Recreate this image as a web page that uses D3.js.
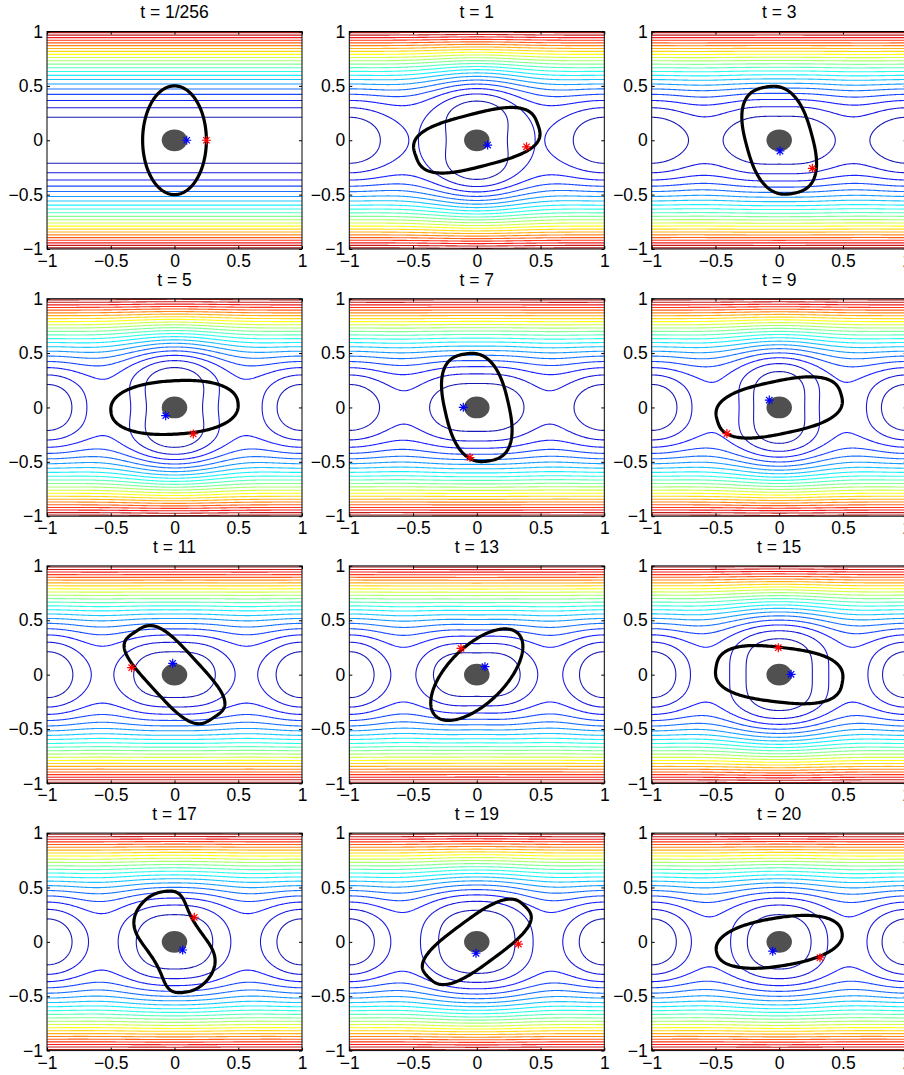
<!DOCTYPE html>
<html>
<head>
<meta charset="utf-8">
<script src="https://cdn.jsdelivr.net/npm/d3@7"></script>
<style>
  body { margin: 0; background: #fff; }
  svg { display: block; }
  text { font-family: "Liberation Sans", Arial, Helvetica, sans-serif; fill: #000; }
</style>
</head>
<body>
<svg id="fig" width="904" height="1075"></svg>
<script>
// ── Data ────────────────────────────────────────────────────────────────────
const titles = ["t = 1/256", "t = 1", "t = 3", "t = 5", "t = 7", "t = 9",
                "t = 11", "t = 13", "t = 15", "t = 17", "t = 19", "t = 20"];

// flow field per panel: height of the saddle between periodic cells (stream
// function units), and half width / half height of the innermost closed orbit
// round the centre (0 = no closed orbit)
const saddleAmp   = [0, 0.075, 0.068, 0.11, 0.087, 0.105, 0.11, 0.12, 0.12, 0.115, 0.115, 0.115];
const innerHalfW  = [0, 0.24, 0.44, 0.22, 0.37, 0.2, 0.32, 0.34, 0.26, 0.3, 0.3, 0.25];
const innerHalfH  = [0, 0.36, 0.22, 0.39, 0.22, 0.33, 0.21, 0.2, 0.33, 0.25, 0.29, 0.25];

// vesicle outline per panel (data units, angle in degrees)
const vesA     = [0.5, 0.5, 0.5, 0.5, 0.5, 0.5, 0.5, 0.5, 0.5, 0.47, 0.5, 0.5];
const vesB     = [0.25, 0.24, 0.26, 0.245, 0.25, 0.24, 0.21, 0.24, 0.25, 0.24, 0.2, 0.22];
const vesAngle = [90, 17, 103, 4, 101, 14, -52, 52, -8, 100, 41, 11];
const vesPower = [2, 3, 2.6, 2.3, 2.6, 2.7, 3.5, 2, 2.7, 2.5, 3, 2.3];
const vesBend  = [0, 0, 0, 0, 0, 0, 0, 0, 0, 0.06, 0, 0];

// tracer points
const blueX = [0.096, 0.085, 0.006, -0.069, -0.106, -0.078, -0.014, 0.064, 0.093, 0.064, -0.006, -0.051];
const blueY = [0, -0.044, -0.099, -0.076, 0.001, 0.068, 0.104, 0.073, 0.003, -0.075, -0.105, -0.086];
const redX  = [0.25, 0.39, 0.26, 0.147, -0.053, -0.41, -0.336, -0.124, -0.007, 0.155, 0.326, 0.32];
const redY  = [0, -0.06, -0.258, -0.244, -0.46, -0.24, 0.064, 0.242, 0.248, 0.226, -0.02, -0.146];

const tickValues = [-1, -0.5, 0, 0.5, 1];
const tickLabels = ["\u22121", "\u22120.5", "0", "0.5", "1"];
const levelCount = 22;
const levelStep  = 0.0445;
const diskRadius = 0.1;

// ── Layout ──────────────────────────────────────────────────────────────────
const COL_X = [47, 349.3, 651.7];
const ROW_Y = [31.5, 298.7, 565.9, 833.1];
const PW = 255, PH = 217.5;
const FONT_SIZE = 17.5;

// ── Field model ─────────────────────────────────────────────────────────────
const N = 261, PAD = 1.04, STEP = (2 * PAD) / (N - 1);
const SADDLE_WARP = 1.12, S_Y = 0.41, RX = 0.45, RY = 0.45, QX = 0.35;

function bumpAt(x) {
  const xp = (((x + 1) % 2) + 2) % 2 - 1;
  return Math.pow(Math.sin(Math.PI * Math.pow(Math.abs(xp), SADDLE_WARP)), 2);
}

function psi(x, y, A, D, E) {
  const xp = (((x + 1) % 2) + 2) % 2 - 1;
  const yy = y * y, xx = xp * xp;
  return yy * (1 - D * Math.exp(-xx / (RX * RX) - yy / (RY * RY)))
       + E * xx * Math.exp(-xx / (QX * QX) - yy / (RY * RY))
       + A * bumpAt(x) * Math.exp(-yy / (S_Y * S_Y));
}

// fit the centre terms so the first level closes at the read-off orbit size
function centreTerms(p) {
  const A = saddleAmp[p], w = innerHalfW[p], h = innerHalfH[p];
  if (!w || !h) return [0, 0];
  const L1 = levelStep;
  const D = Math.min(1.3, (1 - L1 / (h * h)) / Math.exp(-(h * h) / (RY * RY)));
  const E = (L1 - A * bumpAt(w)) / (w * w * Math.exp(-(w * w) / (QX * QX)));
  return [D, E];
}

function jet(t) {
  const c = v => Math.round(255 * Math.max(0, Math.min(1, v)));
  return `rgb(${c(1.5 - Math.abs(4 * t - 3))},${c(1.5 - Math.abs(4 * t - 2))},${c(1.5 - Math.abs(4 * t - 1))})`;
}

const levels = d3.range(1, levelCount + 1).map(k => k * levelStep);

const svg = d3.select("#fig");
svg.append("rect").attr("width", 904).attr("height", 1075).attr("fill", "#fff");

titles.forEach((title, p) => {
  const col = p % 3, row = Math.floor(p / 3);
  const x0 = COL_X[col], y0 = ROW_Y[row];

  const x = d3.scaleLinear().domain([-1, 1]).range([x0, x0 + PW]);
  const y = d3.scaleLinear().domain([-1, 1]).range([y0 + PH, y0]);

  const g = svg.append("g");
  const clipId = `clip${p}`;
  g.append("clipPath").attr("id", clipId)
    .append("rect").attr("x", x0).attr("y", y0).attr("width", PW).attr("height", PH);

  // ── streamlines ──
  const [D, E] = centreTerms(p);
  const values = new Float64Array(N * N);
  for (let j = 0; j < N; j++) {
    const yy = PAD - j * STEP;
    for (let i = 0; i < N; i++) {
      const xx = -PAD + i * STEP;
      values[j * N + i] = psi(xx, yy, saddleAmp[p], D, E);
    }
  }
  const contours = d3.contours().size([N, N]).thresholds(levels)(values);
  const proj = d3.geoTransform({
    point(gx, gy) {
      this.stream.point(x(-PAD + (gx - 0.5) * STEP), y(PAD - (gy - 0.5) * STEP));
    }
  });
  const path = d3.geoPath(proj);

  g.append("g").attr("clip-path", `url(#${clipId})`)
    .selectAll("path").data(contours).join("path")
    .attr("d", path)
    .attr("fill", "none")
    .attr("stroke", d => jet(d.value))
    .attr("stroke-width", 1.1)
    .attr("stroke-opacity", 0.9);

  // ── gray disk ──
  g.append("ellipse")
    .attr("cx", x(0)).attr("cy", y(0))
    .attr("rx", x(diskRadius) - x(0)).attr("ry", y(0) - y(diskRadius))
    .attr("fill", "#505050");

  // ── vesicle ──
  const th = vesAngle[p] * Math.PI / 180, n = vesPower[p];
  const a = vesA[p], b = vesB[p];
  const pts = d3.range(0, 240).map(k => {
    const phi = (k / 240) * 2 * Math.PI;
    const c = Math.cos(phi), s = Math.sin(phi);
    const u = a * Math.sign(c) * Math.pow(Math.abs(c), 2 / n);
    let v = b * Math.sign(s) * Math.pow(Math.abs(s), 2 / n);
    v += vesBend[p] * Math.sin(Math.PI * u / a);
    return [u * Math.cos(th) - v * Math.sin(th), u * Math.sin(th) + v * Math.cos(th)];
  });
  g.append("path")
    .attr("d", d3.line().x(d => x(d[0])).y(d => y(d[1])).curve(d3.curveLinearClosed)(pts))
    .attr("fill", "none")
    .attr("stroke", "#000")
    .attr("stroke-width", 3.2)
    .attr("stroke-linejoin", "round");

  // ── tracer asterisks ──
  const star = "M-4.5,0H4.5M0,-4.5V4.5M-3.2,-3.2L3.2,3.2M-3.2,3.2L3.2,-3.2";
  [[blueX[p], blueY[p], "#0000ff"], [redX[p], redY[p], "#ff0000"]].forEach(([sx, sy, colr]) => {
    g.append("path")
      .attr("transform", `translate(${x(sx)},${y(sy)})`)
      .attr("d", star)
      .attr("fill", "none")
      .attr("stroke", colr)
      .attr("stroke-width", 1.2);
  });

  // ── axes ──
  const fmt = v => tickLabels[tickValues.indexOf(v)];
  const styleAxis = sel => {
    sel.select(".domain").remove();
    sel.selectAll(".tick line").attr("stroke", "#000");
    sel.selectAll(".tick text").attr("font-size", FONT_SIZE).attr("fill", "#000")
      .style("font-family", '"Liberation Sans", Arial, Helvetica, sans-serif');
  };
  g.append("g").attr("transform", `translate(0,${y0 + PH})`)
    .call(d3.axisBottom(x).tickValues(tickValues).tickFormat(fmt).tickSizeInner(-3).tickSizeOuter(0).tickPadding(5.5))
    .call(styleAxis);
  g.append("g").attr("transform", `translate(${x0},0)`)
    .call(d3.axisLeft(y).tickValues(tickValues).tickFormat(fmt).tickSizeInner(-3).tickSizeOuter(0).tickPadding(4))
    .call(styleAxis);
  g.append("g").attr("transform", `translate(0,${y0})`)
    .call(d3.axisTop(x).tickValues(tickValues).tickFormat("").tickSizeInner(-3).tickSizeOuter(0))
    .call(styleAxis);
  g.append("g").attr("transform", `translate(${x0 + PW},0)`)
    .call(d3.axisRight(y).tickValues(tickValues).tickFormat("").tickSizeInner(-3).tickSizeOuter(0))
    .call(styleAxis);

  g.append("rect")
    .attr("x", x0).attr("y", y0).attr("width", PW).attr("height", PH)
    .attr("fill", "none").attr("stroke", "#000").attr("stroke-width", 1);

  g.append("text")
    .attr("x", x(0)).attr("y", y0 - 13.2)
    .attr("text-anchor", "middle")
    .attr("font-size", FONT_SIZE)
    .text(title);
});
</script>
</body>
</html>
